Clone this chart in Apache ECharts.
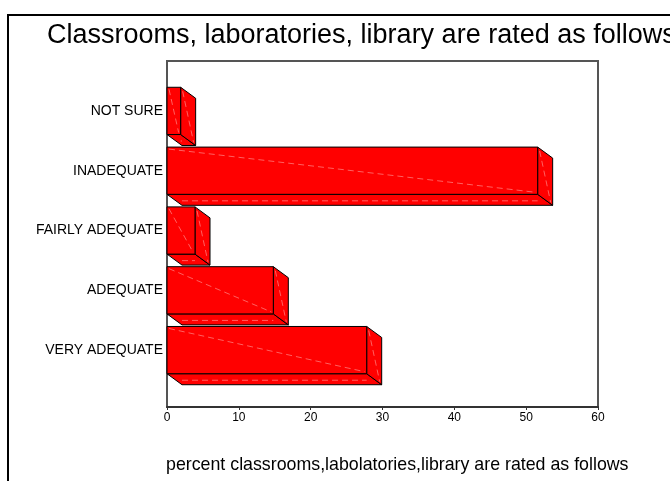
<!DOCTYPE html>
<html>
<head>
<meta charset="utf-8">
<script src="https://cdn.jsdelivr.net/npm/echarts@6/dist/echarts.min.js"></script>
<style>
  html, body { margin: 0; padding: 0; background: #fff; }
  #chart { width: 670px; height: 481px; }
</style>
</head>
<body>
<div id="chart"></div>
<script>
// categories from top to bottom, percent values
const categories = ['NOT SURE', 'INADEQUATE', 'FAIRLY ADEQUATE', 'ADEQUATE', 'VERY ADEQUATE'];
const percents = [1.9, 51.6, 3.9, 14.8, 27.8];
const xTicks = [0, 10, 20, 30, 40, 50, 60];

var chart = echarts.init(document.getElementById('chart'));

const font = 'Liberation Sans, Arial, sans-serif';
const depthX = 15;
const depthY = 11;

// draws one 3d style bar: front face, right side face and the bottom face
const renderBar = (params, api) => {
  const start = api.coord([0, api.value(1)]);
  const end = api.coord([api.value(0), api.value(1)]);
  const h = api.size([0, 1])[1] * 0.79;
  const x0 = start[0], x1 = end[0];
  const yt = end[1] - h / 2, yb = end[1] + h / 2;
  const edge = { fill: '#ff0000', stroke: '#000', lineWidth: 1 };
  const glint = { stroke: 'rgba(255,160,160,0.6)', lineWidth: 1, lineDash: [6, 4] };
  return {
    type: 'group',
    children: [
      { type: 'polygon', shape: { points: [[x0, yb], [x1, yb], [x1 + depthX, yb + depthY], [x0 + depthX, yb + depthY]] }, style: edge },
      { type: 'polygon', shape: { points: [[x1, yt], [x1 + depthX, yt + depthY], [x1 + depthX, yb + depthY], [x1, yb]] }, style: edge },
      { type: 'rect', shape: { x: x0, y: yt, width: x1 - x0, height: h }, style: edge },
      { type: 'line', shape: { x1: x0 + 2, y1: yt + 2, x2: x1 - 2, y2: yb - 2 }, style: glint },
      { type: 'line', shape: { x1: x1 + 2, y1: yt + 4, x2: x1 + depthX - 2, y2: yb + depthY - 3 }, style: glint },
      { type: 'line', shape: { x1: x0 + depthX, y1: yb + depthY / 2 + 1, x2: x1, y2: yb + depthY / 2 + 1 }, style: glint }
    ]
  };
};

const option = {
  animation: false,
  backgroundColor: '#fff',
  title: [
    {
      text: 'Classrooms, laboratories, library are rated as follows',
      left: 47,
      top: 22,
      padding: 0,
      textStyle: { fontFamily: font, fontSize: 27, fontWeight: 'normal', color: '#000' }
    },
    {
      text: 'percent classrooms,labolatories,library are rated as follows',
      left: 166,
      top: 456,
      padding: 0,
      textStyle: { fontFamily: font, fontSize: 17.8, fontWeight: 'normal', color: '#000' }
    }
  ],
  graphic: [
    {
      type: 'rect',
      shape: { x: 8, y: 15, width: 700, height: 520 },
      style: { fill: null, stroke: '#000', lineWidth: 2 },
      silent: true
    }
  ],
  grid: [
    { left: 167, right: 72, top: 61, bottom: 74, show: true, borderColor: '#555', borderWidth: 2, backgroundColor: '#fff' },
    { left: 167, right: 72, top: 81, bottom: 101 }
  ],
  xAxis: [
    {
      gridIndex: 0,
      type: 'value',
      min: 0,
      max: 60,
      interval: 10,
      splitLine: { show: false },
      axisLine: { show: true, lineStyle: { color: '#333', width: 2 } },
      axisTick: { show: true, length: 3, lineStyle: { color: '#333' } },
      axisLabel: {
        margin: 5,
        fontFamily: font,
        fontSize: 12,
        color: '#000',
        formatter: (v) => (xTicks.indexOf(v) >= 0 ? String(v) : '')
      }
    },
    { gridIndex: 1, type: 'value', min: 0, max: 60, show: false }
  ],
  yAxis: [
    { gridIndex: 0, type: 'value', show: false },
    {
      gridIndex: 1,
      type: 'category',
      inverse: true,
      data: categories,
      axisLine: { show: false },
      axisTick: { show: false },
      axisLabel: { margin: 4, fontFamily: font, fontSize: 14, color: '#000', padding: [0, 0, 5, 0] }
    }
  ],
  series: [
    {
      type: 'custom',
      xAxisIndex: 1,
      yAxisIndex: 1,
      clip: false,
      renderItem: renderBar,
      encode: { x: 0, y: 1 },
      data: percents.map((v, i) => [v, i])
    }
  ]
};

chart.setOption(option);
</script>
</body>
</html>
